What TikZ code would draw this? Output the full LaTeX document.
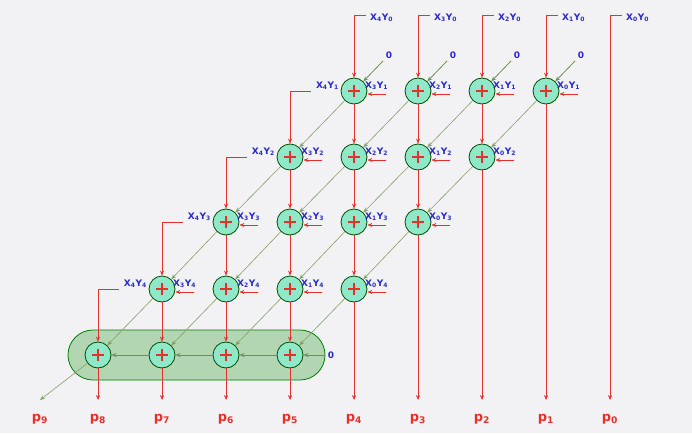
\documentclass[tikz,border=0pt]{standalone}
\usepackage{fontspec}
\setmainfont{DejaVu Sans}
\usetikzlibrary{arrows.meta,calc}
\definecolor{bg}{HTML}{F2F2F4}
\definecolor{red1}{HTML}{E8302A}
\definecolor{grn}{HTML}{6E8F50}
\definecolor{blu}{HTML}{2A2ACC}
\definecolor{aq}{HTML}{8FE8C8}
\tikzset{
 x=1pt,y=-1pt,
 add/.style={circle,draw=black!70!green,thick,fill=aq,minimum size=26pt,inner sep=0pt},
 ra/.style={draw=red1,semithick,-{Stealth[length=5pt,width=4pt]}},
 ga/.style={draw=grn,thick,-{Stealth[length=5pt,width=4pt]}},
 lab/.style={text=blu,font=\bfseries\fontsize{9}{9}\selectfont,inner sep=1pt},
 plab/.style={text=red1,font=\bfseries\fontsize{13}{13}\selectfont},
 plusm/.style={red1,line width=2.6pt}
}
\newcommand{\xy}[2]{X\textsubscript{#1}Y\textsubscript{#2}}
\begin{document}
\begin{tikzpicture}
\fill[bg] (0,0) rectangle (692,433);
\useasboundingbox (0,0) rectangle (692,433);
\fill[green!45!black!30,draw=green!50!black,thick,rounded corners=25pt] (68,330) rectangle (325,380);
% nodes
\foreach \r/\y/\cmin in {1/91/4,2/157/3,3/222/2,4/289/1,5/355/0}{
 \pgfmathtruncatemacro{\cmax}{\cmin+3}
 \foreach \c in {\cmin,...,\cmax}{
  \pgfmathsetmacro{\xx}{98+64*\c}
  \node[add] (n-\r-\c) at (\xx,\y) {};
  \draw[plusm] ($(n-\r-\c)+(-6,0)$) -- ($(n-\r-\c)+(6,0)$) ($(n-\r-\c)+(0,-6)$) -- ($(n-\r-\c)+(0,6)$);
 }
}
% bottom coordinates and labels
\foreach \c/\p in {0/8,1/7,2/6,3/5,4/4,5/3,6/2,7/1,8/0}{
 \pgfmathsetmacro{\xx}{98+64*\c}
 \coordinate (b-\c) at (\xx,400);
 \node[plab] at (\xx,419) {p\textsubscript{\p}};
}
\coordinate (b-9) at (40,400);
\node[plab] at (40,419) {p\textsubscript{9}};
% top inputs
\foreach \c/\i in {4/4,5/3,6/2,7/1,8/0}{
 \pgfmathsetmacro{\xx}{98+64*\c}
 \coordinate (t-\c) at (\xx+12,15);
 \node[lab,anchor=west] at (\xx+15,18) {\xy{\i}{0}};
}
\foreach \c in {4,5,6,7}{\draw[ra] (t-\c) -| (n-1-\c);}
\draw[ra] (t-8) -| (b-8);
% zero diagonal inputs row1
\foreach \c in {4,5,6,7}{
 \coordinate (z-\c) at ($(n-1-\c)+(29,-30)$);
 \node[lab] at ($(n-1-\c)+(35,-36)$) {0};
 \draw[ga] (z-\c) -- (n-1-\c);
}
% right inputs
\foreach \r in {1,...,4}{
 \pgfmathtruncatemacro{\cmin}{5-\r}
 \pgfmathtruncatemacro{\cmax}{\cmin+3}
 \foreach \c in {\cmin,...,\cmax}{
  \pgfmathtruncatemacro{\i}{8-\r-\c}
  \coordinate (r-\r-\c) at ($(n-\r-\c)+(32,3)$);
  \draw[ra] (r-\r-\c) -- ($(n-\r-\c.east)+(0,3)$);
  \node[lab,anchor=south west] at ($(n-\r-\c)+(10,0)$) {\xy{\i}{\r}};
 }
}
% left inputs X4Yr
\foreach \r/\c in {1/4,2/3,3/2,4/1}{
 \pgfmathtruncatemacro{\rr}{\r+1}
 \pgfmathtruncatemacro{\cc}{\c-1}
 \coordinate (l-\r) at ($(n-\r-\c)+(-43,0)$);
 \node[lab,anchor=south east] at ($(n-\r-\c)+(-14,0)$) {\xy{4}{\r}};
 \draw[ra] (l-\r) -| (n-\rr-\cc);
}
% vertical connections
\foreach \r in {1,...,4}{
 \pgfmathtruncatemacro{\cmin}{5-\r}
 \pgfmathtruncatemacro{\cm}{\cmin+2}
 \pgfmathtruncatemacro{\cmax}{\cmin+3}
 \pgfmathtruncatemacro{\rr}{\r+1}
 \foreach \c in {\cmin,...,\cm}{\draw[ra] (n-\r-\c) -- (n-\rr-\c);}
 \draw[ra] (n-\r-\cmax) -- (b-\cmax);
 % diagonals
 \foreach \c in {\cmin,...,\cmax}{
  \pgfmathtruncatemacro{\cc}{\c-1}
  \draw[ga,draw=grn!85,semithick] (n-\r-\c) -- (n-\rr-\cc);
 }
}
\foreach \c in {0,...,3}{\draw[ra] (n-5-\c) -- (b-\c);}
% final row ripple
\coordinate (z5) at (325,355);
\node[lab] at (331,355) {0};
\draw[ga] (z5) -- (n-5-3);
\draw[ga] (n-5-3) -- (n-5-2);
\draw[ga] (n-5-2) -- (n-5-1);
\draw[ga] (n-5-1) -- (n-5-0);
\draw[ga,draw=grn!85,semithick] (n-5-0) -- (b-9);
\end{tikzpicture}
\end{document}
